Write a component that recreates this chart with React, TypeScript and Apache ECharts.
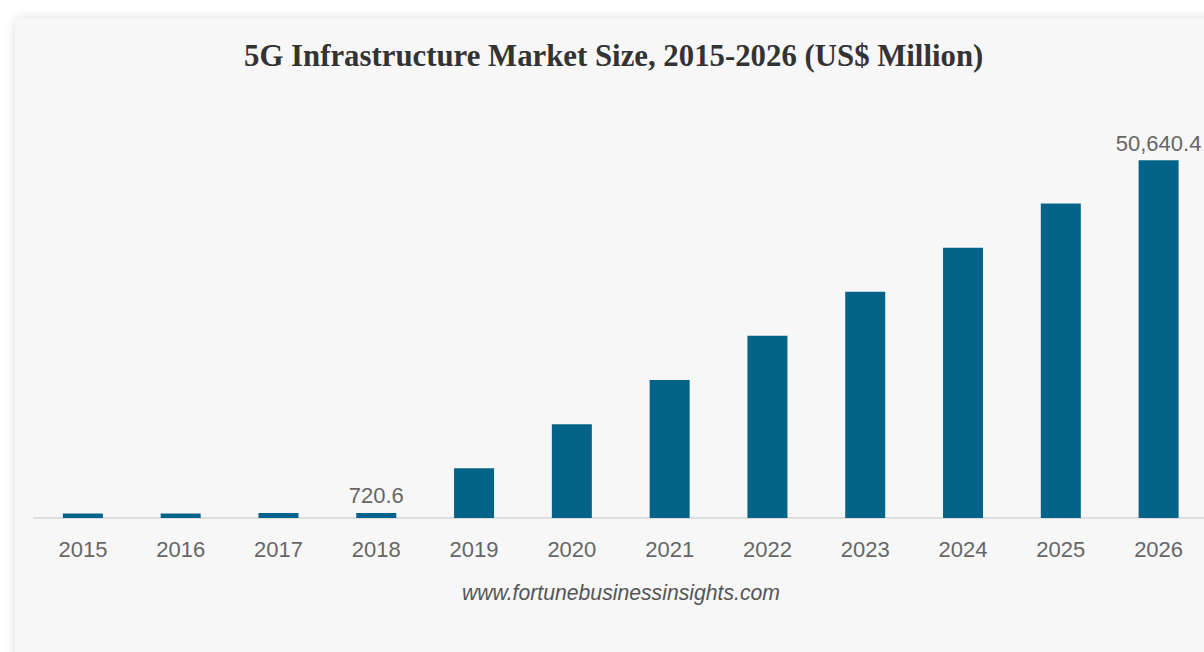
import React, { useEffect, useRef } from "react";
import * as echarts from "echarts";

const years = ["2015", "2016", "2017", "2018", "2019", "2020", "2021", "2022", "2023", "2024", "2025", "2026"];
const marketSize = [620, 650, 690, 720.6, 7030, 13254, 19520, 25787, 32010, 38234, 44514, 50640.4];
const labelledYears = ["2018", "2026"];

const titleText = "5G Infrastructure Market Size, 2015-2026 (US$ Million)";
const sourceText = "www.fortunebusinessinsights.com";

function fmt(v: number): string {
  return v.toLocaleString("en-US", { minimumFractionDigits: 1, maximumFractionDigits: 1 });
}

export default function App() {
  const ref = useRef<HTMLDivElement>(null);

  useEffect(() => {
    if (!ref.current) return;
    const chart = echarts.init(ref.current, undefined, { renderer: "svg" });
    chart.setOption({
      animation: false,
      backgroundColor: "transparent",
      title: {
        text: titleText,
        left: 239,
        top: 35,
        textStyle: {
          fontFamily: "Liberation Serif",
          fontWeight: "bold",
          fontSize: 30.8,
          color: "#333333",
        },
      },
      graphic: [
        {
          type: "text",
          left: 462,
          top: 582,
          style: {
            text: sourceText,
            fontFamily: "Liberation Sans",
            fontStyle: "italic",
            fontSize: 21.2,
            fill: "#555555",
          },
        },
      ],
      grid: { left: 34, right: 12.5, top: 94, bottom: 134 },
      xAxis: {
        type: "category",
        data: years,
        axisLine: { lineStyle: { color: "#dddddd", width: 2 } },
        axisTick: { show: false },
        axisLabel: {
          color: "#666666",
          fontFamily: "Liberation Sans",
          fontSize: 22,
          margin: 20,
        },
      },
      yAxis: {
        type: "value",
        min: 0,
        max: 60000,
        show: false,
        splitLine: { show: false },
      },
      series: [
        {
          type: "bar",
          barWidth: 40,
          data: marketSize.map((v, i) => ({
            value: v,
            label: {
              show: labelledYears.includes(years[i]),
              position: "top",
              distance: 6,
              color: "#666666",
              fontFamily: "Liberation Sans",
              fontSize: 22,
              formatter: () => fmt(v),
            },
          })),
          itemStyle: { color: "#05638a" },
        },
      ],
    });
    return () => chart.dispose();
  }, []);

  return (
    <div style={{ position: "fixed", left: 0, top: 0, width: 1204, height: 652, background: "#ffffff", overflow: "hidden" }}>
      <div
        style={{
          position: "absolute",
          left: 15,
          top: 18,
          width: 1230,
          height: 700,
          background: "#f7f7f7",
          borderRadius: 6,
          boxShadow: "0 0 12px rgba(0,0,0,0.14)",
        }}
      />
      <div ref={ref} style={{ position: "absolute", left: 0, top: 0, width: 1220, height: 652 }} />
    </div>
  );
}
